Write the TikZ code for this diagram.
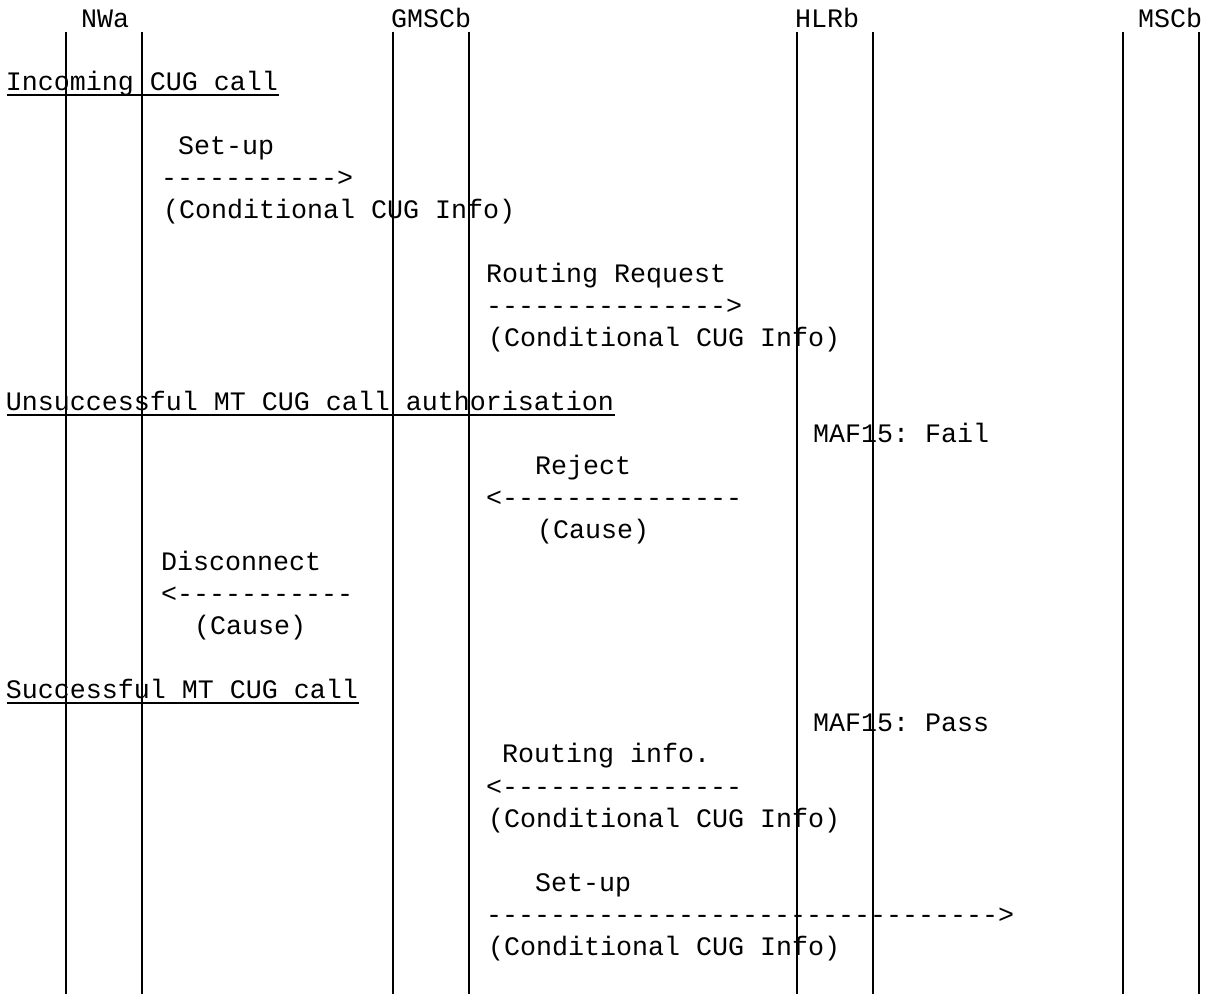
\documentclass[tikz,border=0pt]{standalone}
\usepackage{fontspec}
\setmonofont{Liberation Mono}
\usetikzlibrary{calc}
\newcommand\dsh[1]{\foreach \i in {1,...,#1}{-}}
\begin{document}
\frenchspacing
\begin{tikzpicture}[x=0.75pt,y=-0.75pt,
  txt/.style={anchor=base west,inner sep=0pt,outer sep=0pt,yshift=-2.25pt,font=\fontsize{20pt}{24pt}\selectfont\ttfamily},
  life/.style={line width=1.3pt,black},
  uline/.style={line width=1.5pt,black}]
\useasboundingbox (0,0) rectangle (1211,994);
% lifelines
\foreach \x/\n in {66/a1,142/a2,393/g1,469/g2,797/h1,873/h2,1123/m1,1199/m2}{
  \coordinate (\n t) at (\x,32);
  \coordinate (\n b) at (\x,994);
  \draw[life] (\n t) -- (\n b);
}
% headers
\node[txt] (hNW) at (81,25) {NWa};
\node[txt] (hGM) at (391,25) {GMSCb};
\node[txt] (hHL) at (795,25) {HLRb};
\node[txt] (hMS) at (1138,25) {MSCb};
% section titles
\node[txt] (s1) at (6,88) {Incoming CUG call};
\node[txt] (s2) at (6,408) {Unsuccessful MT CUG call authorisation};
\node[txt] (s3) at (6,696) {Successful MT CUG call};
\coordinate (u1a) at (7,95); \coordinate (u1b) at (279,95);
\coordinate (u2a) at (7,415); \coordinate (u2b) at (615,415);
\coordinate (u3a) at (7,703); \coordinate (u3b) at (359,703);
\draw[uline] (u1a) -- (u1b);
\draw[uline] (u2a) -- (u2b);
\draw[uline] (u3a) -- (u3b);
% messages
\node[txt] (m1) at (178,152) {Set-up};
\node[txt] (m1a) at (161,184) {\dsh{11}>};
\node[txt] (m1p) at (163,216) {(Conditional CUG Info)};
\node[txt] (m2) at (486,280) {Routing Request};
\node[txt] (m2a) at (486,312) {\dsh{15}>};
\node[txt] (m2p) at (488,344) {(Conditional CUG Info)};
\node[txt] (f1) at (813,440) {MAF15: Fail};
\node[txt] (m3) at (535,472) {Reject};
\node[txt] (m3a) at (486,504) {<\dsh{15}};
\node[txt] (m3p) at (537,536) {(Cause)};
\node[txt] (m4) at (161,568) {Disconnect};
\node[txt] (m4a) at (161,600) {<\dsh{11}};
\node[txt] (m4p) at (194,632) {(Cause)};
\node[txt] (f2) at (813,728) {MAF15: Pass};
\node[txt] (m5) at (502,760) {Routing info.};
\node[txt] (m5a) at (486,792) {<\dsh{15}};
\node[txt] (m5p) at (488,824) {(Conditional CUG Info)};
\node[txt] (m6) at (535,888) {Set-up};
\node[txt] (m6a) at (486,920) {\dsh{32}>};
\node[txt] (m6p) at (488,952) {(Conditional CUG Info)};
\end{tikzpicture}
\end{document}
